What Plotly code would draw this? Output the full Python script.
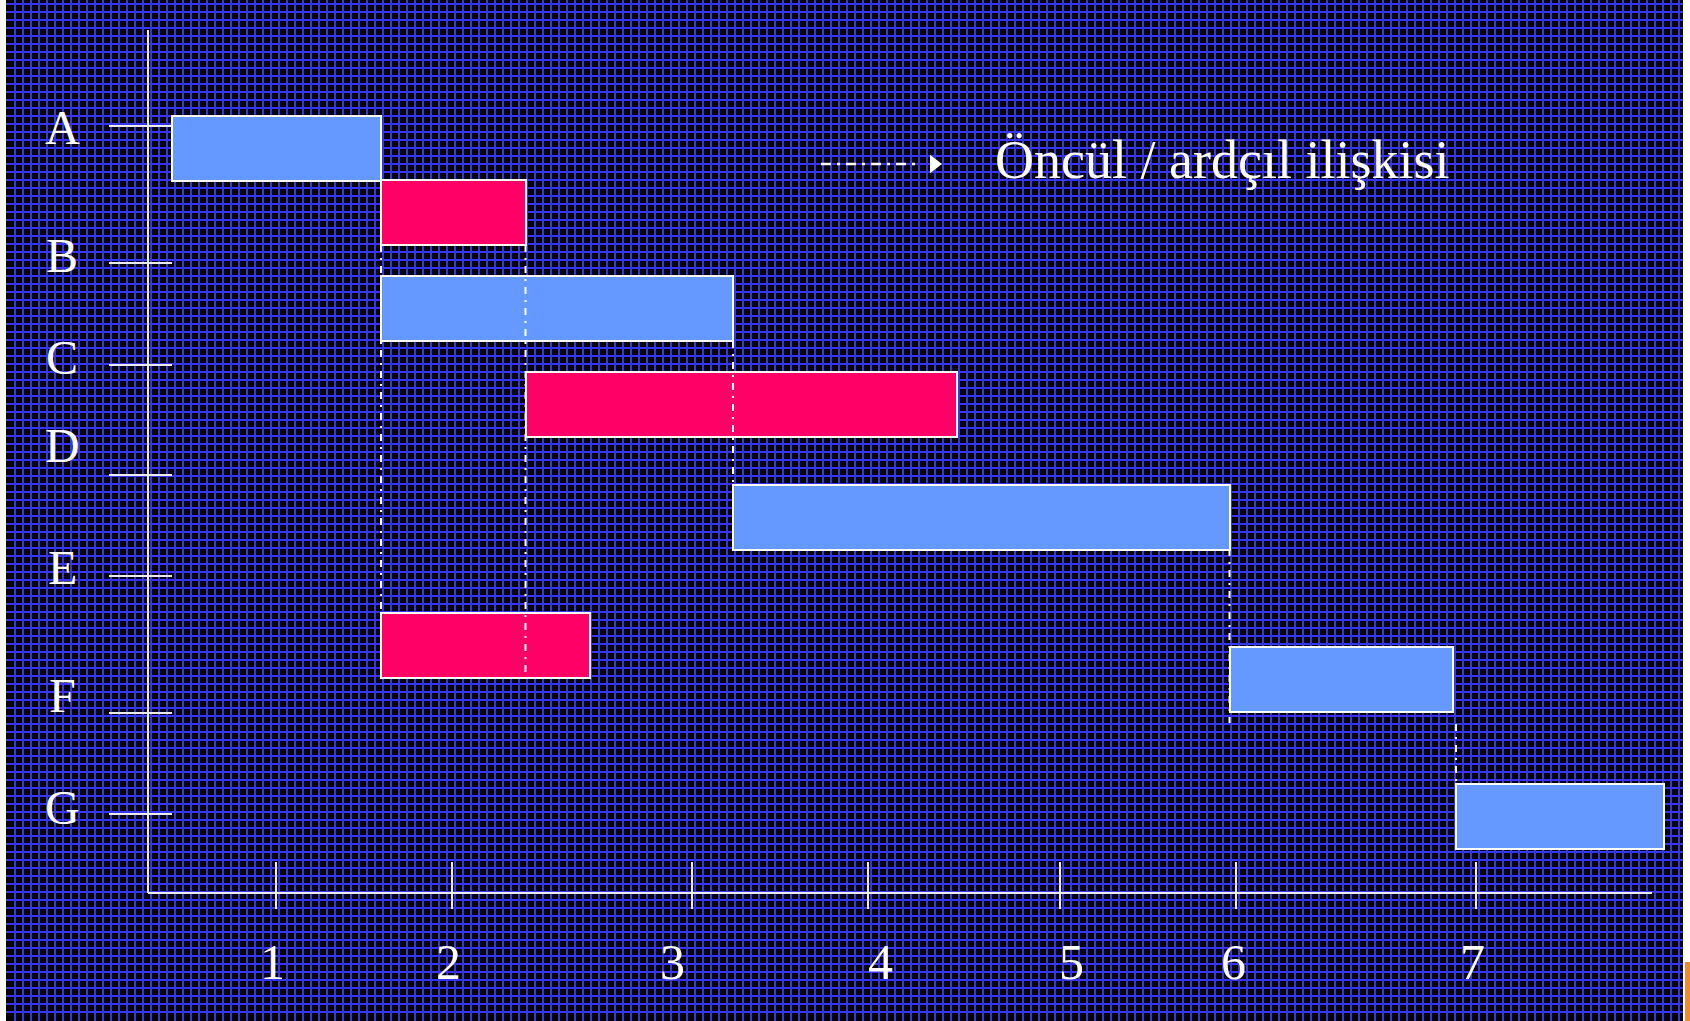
import plotly.graph_objects as go

# ---------------- data ----------------
row_names   = ["A", "B", "C", "D", "E", "F", "G"]
row_tick_y  = [1.0, 2.195, 3.084, 4.044, 4.924, 6.119, 7.0]
row_label_y = [1.01, 2.125, 3.023, 3.79, 4.846, 5.962, 6.939]

time_labels  = ["1", "2", "3", "4", "5", "6", "7"]
time_tick_x  = [1.0, 1.88, 3.08, 3.96, 4.92, 5.80, 7.0]
time_label_x = [0.98, 1.86, 2.98, 4.02, 4.975, 5.785, 6.98]

bar_task  = ["A", "B", "C", "D", "E", "F", "F", "G"]
bar_start = [0.482, 1.525, 1.525, 2.2475, 3.285, 1.525, 5.7675, 6.90]
bar_end   = [1.525, 2.2475, 3.285, 4.405, 5.7675, 2.5685, 6.8865, 7.94]
bar_row   = [1.196, 1.754, 2.592, 3.429, 4.41, 5.526, 5.831, 7.022]
bar_group = ["normal", "kritik", "normal", "kritik", "normal", "kritik", "normal", "normal"]

link_x  = [1.525, 2.2475, 3.285, 5.7675, 6.90]
link_y0 = [2.038, 2.038, 2.875, 4.689, 6.215]
link_y1 = [5.247, 5.788, 4.131, 6.206, 6.738]

legend_text = "Öncül / ardçıl ilişkisi"

# ---------------- styling ----------------
W, H = 1690, 1021
ML, MR = 6, 7
BLUE = "#6699ff"
RED = "#ff0066"
GRID = "#3535f8"
WHITE = "#ffffff"
AXC = "#ececec"
SERIF = "Liberation Serif, Times New Roman, serif"
DASHDOT = "7px,6px,2px,6px"
LEGEND_DASH = "10px,6px,3px,6px"

group_color = {"normal": BLUE, "kritik": RED}

fig = go.Figure()

# Gantt bars
fig.add_trace(go.Bar(
    orientation="h",
    y=bar_row,
    base=bar_start,
    x=[e - s for s, e in zip(bar_start, bar_end)],
    width=0.567,
    marker=dict(color=[group_color[g] for g in bar_group],
                line=dict(color=WHITE, width=2)),
    text=bar_task, textposition="none",
    hoverinfo="text",
    showlegend=False,
))

# predecessor / successor links
lx, ly = [], []
for x, a, b in zip(link_x, link_y0, link_y1):
    lx += [x, x, None]
    ly += [a, b, None]
fig.add_trace(go.Scatter(x=lx, y=ly, mode="lines",
                         line=dict(color=WHITE, width=2, dash=DASHDOT),
                         hoverinfo="skip", showlegend=False))

# legend sample (dash-dot arrow)
fig.add_trace(go.Scatter(x=[3.725, 4.21], y=[1.331, 1.331], mode="lines",
                         line=dict(color=WHITE, width=2.5, dash=LEGEND_DASH),
                         hoverinfo="skip", showlegend=False))
fig.add_trace(go.Scatter(x=[4.29], y=[1.331], mode="markers",
                         marker=dict(symbol="triangle-right", size=16, color=WHITE),
                         hoverinfo="skip", showlegend=False))

# dummy trace for the background grid axes
fig.add_trace(go.Scatter(x=[None], y=[None], xaxis="x2", yaxis="y2",
                         mode="markers", hoverinfo="skip", showlegend=False))

shapes = []
# axis frame
x_axis_left, x_axis_right = 0.36, 7.88
y_axis_top, y_axis_bottom = 0.163, 7.689
shapes.append(dict(type="line", xref="x", yref="y", x0=x_axis_left, x1=x_axis_left,
                   y0=y_axis_top, y1=y_axis_bottom, line=dict(color=AXC, width=2)))
shapes.append(dict(type="line", xref="x", yref="y", x0=x_axis_left, x1=x_axis_right,
                   y0=y_axis_bottom, y1=y_axis_bottom, line=dict(color=AXC, width=2)))
for ty in row_tick_y:
    shapes.append(dict(type="line", xref="x", yref="y", x0=0.165, x1=0.48, y0=ty, y1=ty,
                       line=dict(color=AXC, width=2)))
for tx in time_tick_x:
    shapes.append(dict(type="line", xref="x", yref="y", x0=tx, x1=tx, y0=7.418, y1=7.828,
                       line=dict(color=AXC, width=2)))
# small orange corner at bottom right
shapes.append(dict(type="rect", xref="paper", yref="paper",
                   x0=(1685 - ML) / (W - ML - MR), x1=(1690 - ML) / (W - ML - MR),
                   y0=0, y1=1 - 962 / H, fillcolor="#f08a30", line=dict(width=0)))

annotations = []
for name, yv in zip(row_names, row_label_y):
    annotations.append(dict(x=-0.07, y=yv, xref="x", yref="y", text=name, showarrow=False,
                            xanchor="center", yanchor="middle",
                            font=dict(family=SERIF, size=48, color=WHITE)))
for lab, xv in zip(time_labels, time_label_x):
    annotations.append(dict(x=xv, y=8.29, xref="x", yref="y", text=lab, showarrow=False,
                            xanchor="center", yanchor="middle",
                            font=dict(family=SERIF, size=50, color=WHITE)))
annotations.append(dict(x=4.585, y=1.297, xref="x", yref="y", text=legend_text, showarrow=False,
                        xanchor="left", yanchor="middle",
                        font=dict(family=SERIF, size=54, color=WHITE)))

fig.update_layout(
    width=W, height=H,
    margin=dict(l=ML, r=MR, t=0, b=0, pad=0),
    paper_bgcolor="white",
    plot_bgcolor="black",
    showlegend=False,
    bargap=0,
    xaxis=dict(range=[-0.35, 8.035], showgrid=False, zeroline=False, showticklabels=False,
               ticks="", showline=False, fixedrange=True),
    yaxis=dict(range=[8.805, -0.099], showgrid=False, zeroline=False, showticklabels=False,
               ticks="", showline=False, fixedrange=True),
    xaxis2=dict(overlaying="x", anchor="y2", range=[ML, W - MR], tick0=7, dtick=8,
                showgrid=True, gridcolor=GRID, gridwidth=2, zeroline=False,
                showticklabels=False, ticks="", showline=False, fixedrange=True),
    yaxis2=dict(overlaying="y", anchor="x2", range=[H, 0], tick0=4, dtick=8,
                showgrid=True, gridcolor=GRID, gridwidth=2, zeroline=False,
                showticklabels=False, ticks="", showline=False, fixedrange=True),
    shapes=shapes,
    annotations=annotations,
)

fig.write_html("out.html", config={"displayModeBar": False})
